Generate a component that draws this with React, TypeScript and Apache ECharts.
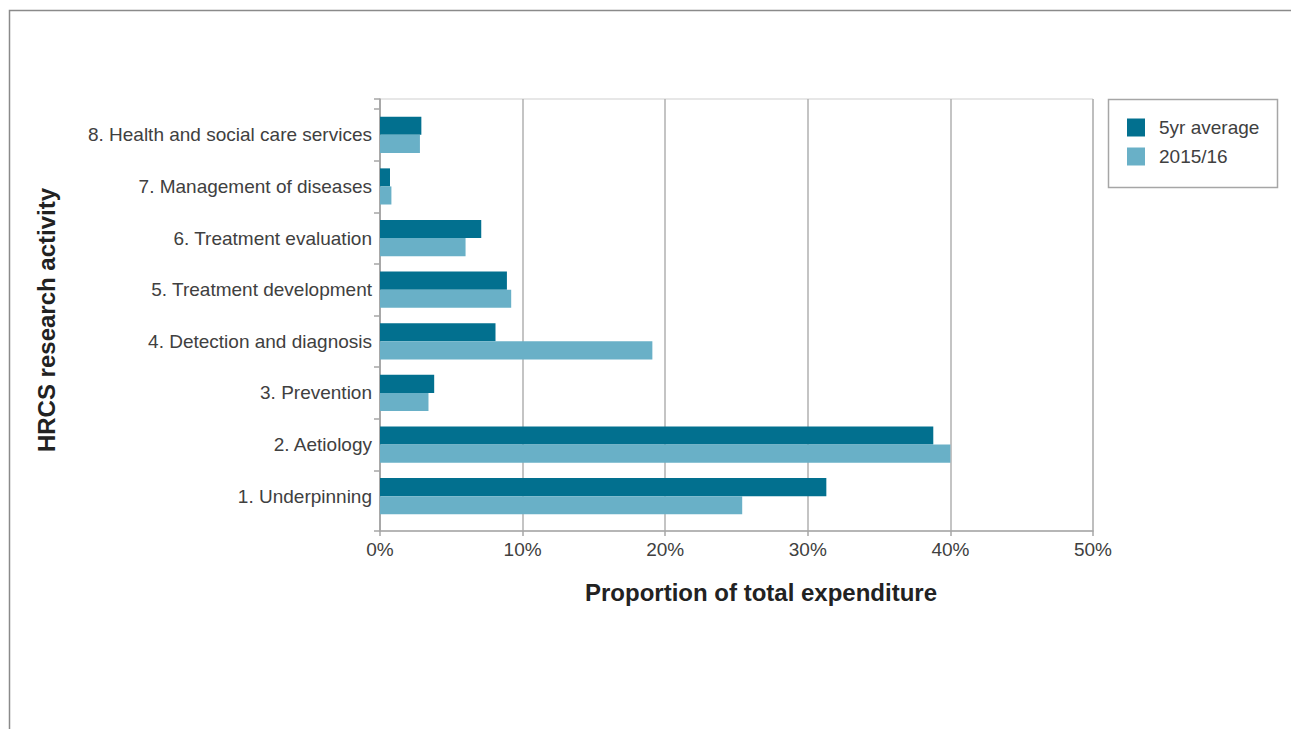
import React, { useEffect, useRef } from "react";
import * as echarts from "echarts";

const categories = [
  "1. Underpinning",
  "2. Aetiology",
  "3. Prevention",
  "4. Detection and diagnosis",
  "5. Treatment development",
  "6. Treatment evaluation",
  "7. Management of diseases",
  "8. Health and social care services",
];
const fiveYearAverage = [31.3, 38.8, 3.8, 8.1, 8.9, 7.1, 0.7, 2.9];
const year201516 = [25.4, 40.0, 3.4, 19.1, 9.2, 6.0, 0.8, 2.8];
const xTicks = { min: 0, max: 50, interval: 10 };

const FONT = "'Liberation Sans', Arial, Helvetica, sans-serif";
const DARK = "#02708f";
const LIGHT = "#69b0c7";

export default function App() {
  const ref = useRef<HTMLDivElement>(null);
  useEffect(() => {
    if (!ref.current) return;
    const chart = echarts.init(ref.current, null, { renderer: "svg" });
    chart.setOption({
      animation: false,
      textStyle: { fontFamily: FONT },
      grid: [
        { left: 380, top: 99, width: 713, height: 432, show: true, borderColor: "#cfcfcf", borderWidth: 1, containLabel: false },
        { left: 380, top: 109, width: 713, height: 413, containLabel: false },
      ],
      xAxis: [
        {
          gridIndex: 0,
          type: "value",
          min: xTicks.min,
          max: xTicks.max,
          interval: xTicks.interval,
          axisLine: { show: true, lineStyle: { color: "#a6a6a6", width: 1.5 } },
          axisTick: { show: true, length: 5, lineStyle: { color: "#a6a6a6", width: 1.5 } },
          splitLine: { show: true, lineStyle: { color: "#b0b0b0", width: 1.5 } },
          axisLabel: { formatter: "{value}%", color: "#404040", fontSize: 19, margin: 9, fontFamily: FONT },
        },
        { gridIndex: 1, type: "value", min: xTicks.min, max: xTicks.max, show: false },
      ],
      yAxis: [
        {
          gridIndex: 0,
          type: "value",
          min: 0,
          max: 1,
          interval: 1,
          axisLine: { show: true, lineStyle: { color: "#a0a0a0", width: 1.5 } },
          axisTick: { show: true, length: 6, lineStyle: { color: "#a6a6a6", width: 1.5 } },
          axisLabel: { show: false },
          splitLine: { show: false },
        },
        {
          gridIndex: 1,
          type: "category",
          data: categories,
          axisLine: { show: false },
          axisTick: { show: true, length: 6, interval: (i: number) => i !== 0, lineStyle: { color: "#a6a6a6", width: 1.5 } },
          axisLabel: { color: "#404040", fontSize: 19, margin: 8, fontFamily: FONT },
          splitLine: { show: false },
        },
      ],
      legend: {
        left: 1108,
        top: 99,
        orient: "vertical",
        padding: [19, 10, 10, 19],
        itemWidth: 18,
        itemHeight: 18,
        itemGap: 10,
        icon: "rect",
        textStyle: { color: "#404040", fontSize: 19, fontFamily: FONT, padding: [0, 0, 0, 9] },
        data: ["5yr average", "2015/16"],
      },
      graphic: [
        {
          type: "polyline",
          shape: { points: [[9.5, 729], [9.5, 10.5], [1291, 10.5]] },
          style: { stroke: "#8a8a8a", lineWidth: 1.5, fill: "none" },
          silent: true,
        },
        {
          type: "rect",
          shape: { x: 1108.5, y: 99.5, width: 169, height: 88 },
          style: { stroke: "#a6a6a6", lineWidth: 1.5, fill: "none" },
          silent: true,
        },
        {
          type: "text",
          x: 46,
          y: 320,
          rotation: Math.PI / 2,
          style: {
            text: "HRCS research activity",
            font: `bold 24px ${FONT}`,
            fill: "#222",
            align: "center",
            verticalAlign: "middle",
          },
          silent: true,
        },
        {
          type: "text",
          x: 761,
          y: 592,
          style: {
            text: "Proportion of total expenditure",
            font: `bold 24px ${FONT}`,
            fill: "#222",
            align: "center",
            verticalAlign: "middle",
          },
          silent: true,
        },
      ],
      series: [
        {
          name: "5yr average",
          type: "bar",
          xAxisIndex: 1,
          yAxisIndex: 1,
          data: fiveYearAverage,
          barGap: "0%",
          barCategoryGap: "30%",
          itemStyle: { color: DARK },
        },
        {
          name: "2015/16",
          type: "bar",
          xAxisIndex: 1,
          yAxisIndex: 1,
          data: year201516,
          barGap: "0%",
          barCategoryGap: "30%",
          itemStyle: { color: LIGHT },
        },
      ],
    });
    return () => chart.dispose();
  }, []);
  return <div ref={ref} style={{ width: 1291, height: 729, position: "absolute", left: 0, top: 0 }} />;
}
